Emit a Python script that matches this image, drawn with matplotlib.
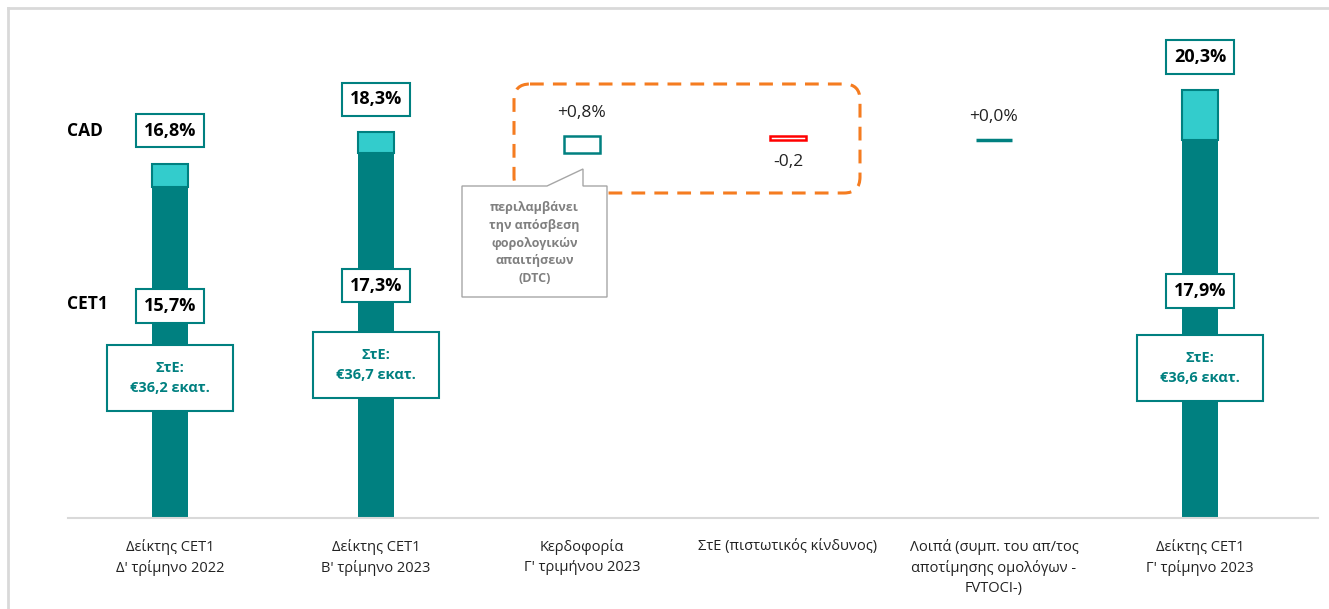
import numpy as np
import matplotlib
matplotlib.use("Agg")
import matplotlib.pyplot as plt
from matplotlib.patches import FancyBboxPatch, Rectangle, Polygon

plt.rcParams['font.family'] = ['Open Sans', 'DejaVu Sans']

# data
categories = ["Δείκτης CET1\nΔ' τρίμηνο 2022", "Δείκτης CET1\nΒ' τρίμηνο 2023",
              "Κερδοφορία\nΓ' τριμήνου 2023", "ΣτΕ (πιστωτικός κίνδυνος)",
              "Λοιπά (συμπ. του απ/τος\nαποτίμησης ομολόγων -\nFVTOCI-)",
              "Δείκτης CET1\nΓ' τρίμηνο 2023"]
total_idx = [0, 1, 5]
cet1 = [15.7, 17.3, 17.9]
cad = [16.8, 18.3, 20.3]
step_idx = [2, 3, 4]
changes = [0.8, -0.2, 0.0]
change_labels = ["+0,8%", "-0,2", "+0,0%"]
rwa_labels = ["ΣτΕ:\n€36,2 εκατ.", "ΣτΕ:\n€36,7 εκατ.", "ΣτΕ:\n€36,6 εκατ."]

DARK = "#008080"
LIGHT = "#33CCCC"
RED = "#FF0000"
ORANGE = "#F57C20"
GREY = "#D9D9D9"

W, H = 1329, 609
fig = plt.figure(figsize=(W / 100, H / 100), dpi=100)
px = 206.0   # pixels per category
ppu = 21.1   # pixels per percent
ax = fig.add_axes([68 / W, 91 / H, 1250 / W, 24 * ppu / H])
ax.set_xlim(-102 / px, 1148 / px)
ax.set_ylim(0, 24)

bw = 0.17
# total bars
ax.bar(total_idx, cet1, bw, color=DARK, zorder=2)
ax.bar(total_idx, np.array(cad) - np.array(cet1), bw, bottom=cet1,
       color=LIGHT, edgecolor=DARK, linewidth=1.5, zorder=2)

# floating steps
level = cet1[1]
for i, ch, lab in zip(step_idx, changes, change_labels):
    bottom = level if ch >= 0 else level + ch
    ec = DARK if ch >= 0 else RED
    lw = 2.5 if ch == 0 else 1.8
    ax.bar(i, abs(ch), bw, bottom=bottom, color="white", edgecolor=ec,
           linewidth=lw, zorder=2)
    if ch < 0:
        ax.text(i, bottom - 1.05, lab, ha="center", va="center", fontsize=12.5, color="#222222")
    else:
        ax.text(i, bottom + ch + 1.1, lab, ha="center", va="center", fontsize=12.5,
                color="#222222")
    level += ch

box = dict(boxstyle="square,pad=0.42", fc="white", ec=DARK, lw=1.5)
cet1_label_y = [10.05, 11.0, 10.76]
rwa_y = [6.63, 7.25, 7.1]
for k, i in enumerate(total_idx):
    ax.text(i, cad[k] + 1.55, f"{cad[k]:.1f}%".replace(".", ","), ha="center", va="center",
            fontsize=13, fontweight="bold", bbox=box, zorder=4)
    ax.text(i, cet1_label_y[k], f"{cet1[k]:.1f}%".replace(".", ","), ha="center", va="center",
            fontsize=13, fontweight="bold", bbox=box, zorder=4)
    ax.add_patch(Rectangle((i - 63 / px, rwa_y[k] - 33 / ppu), 126 / px, 66 / ppu,
                           fc="white", ec=DARK, lw=1.5, zorder=3))
    ax.text(i, rwa_y[k], rwa_labels[k], ha="center", va="center", fontsize=10.5,
            fontweight="bold", color=DARK, linespacing=1.55, zorder=4)

ax.set_xticks(range(len(categories)))
ax.set_xticklabels(categories, fontsize=10.5, color="#222222", linespacing=1.45)
ax.tick_params(axis="x", length=0, pad=15)
ax.set_yticks([])
for s in ["top", "right", "left"]:
    ax.spines[s].set_visible(False)
ax.spines["bottom"].set_color(GREY)
ax.spines["bottom"].set_linewidth(1.5)

# overlay in pixel coords for decorations
ov = fig.add_axes([0, 0, 1, 1], zorder=5)
ov.set_xlim(0, W)
ov.set_ylim(H, 0)
ov.axis("off")
ov.patch.set_alpha(0)

ov.plot([8, W], [8, 8], color=GREY, lw=2)
ov.plot([8, 8], [8, H], color=GREY, lw=2)

ov.text(67, 131, "CAD", ha="left", va="center", fontsize=12.5, fontweight="bold")
ov.text(67, 304, "CET1", ha="left", va="center", fontsize=12.5, fontweight="bold")

ov.add_patch(FancyBboxPatch((514, 84), 346, 109, boxstyle="round,pad=0,rounding_size=16",
                            fc="none", ec=ORANGE, lw=2.2, linestyle=(0, (4.5, 3)), zorder=1))
ov.add_patch(Polygon([[462, 186], [547, 186], [583, 169], [583, 186], [607, 186],
                      [607, 297], [462, 297]], closed=True, fc="white", ec="#A6A6A6",
                     lw=1, zorder=2))
ov.text(534.5, 243, "περιλαμβάνει\nτην απόσβεση\nφορολογικών\nαπαιτήσεων\n(DTC)",
        ha="center", va="center", fontsize=9, fontweight="bold", color="#808080",
        linespacing=1.45, zorder=3)

fig.savefig("out.png", dpi=100)
